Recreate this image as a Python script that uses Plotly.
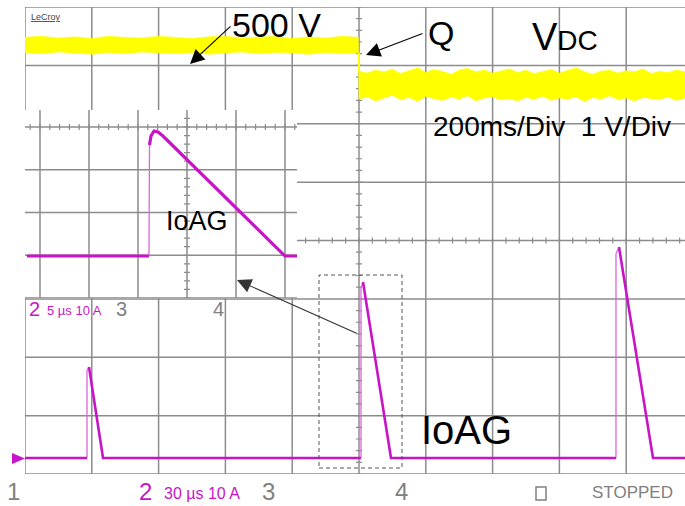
import plotly.graph_objects as go

# ---------------- data (in scope divisions) ----------------
vdc_t = [0.00, 0.25, 0.50, 0.75, 1.00, 1.25, 1.50, 1.75, 2.00, 2.25, 2.50, 2.75, 3.00, 3.25, 3.50,
         3.75, 4.00, 4.25, 4.50, 4.75, 4.99,
         5.00, 5.12, 5.25, 5.38, 5.50, 5.62, 5.75, 5.88, 6.00, 6.12, 6.25, 6.38, 6.50, 6.62, 6.75,
         6.88, 7.00, 7.12, 7.25, 7.38, 7.50, 7.62, 7.75, 7.88, 8.00, 8.12, 8.25, 8.38, 8.50, 8.62,
         8.75, 8.88, 9.00, 9.12, 9.25, 9.38, 9.50, 9.62, 9.75, 9.88]
vdc_hi = [7.48, 7.50, 7.47, 7.49, 7.46, 7.50, 7.48, 7.47, 7.50, 7.48, 7.46, 7.49, 7.50, 7.47, 7.48,
          7.50, 7.46, 7.49, 7.47, 7.50, 7.48,
          6.90, 6.87, 6.92, 6.89, 6.94, 6.86, 6.91, 6.96, 6.88, 6.93, 6.90, 6.85, 6.92, 6.95, 6.89,
          6.92, 6.87, 6.90, 6.94, 6.88, 6.92, 6.86, 6.89, 6.93, 6.87, 6.91, 6.96, 6.89, 6.85, 6.90,
          6.92, 6.87, 6.91, 6.89, 6.94, 6.86, 6.90, 6.88, 6.92, 6.89]
vdc_lo = [7.22, 7.20, 7.23, 7.21, 7.19, 7.22, 7.20, 7.23, 7.21, 7.20, 7.22, 7.19, 7.21, 7.23, 7.20,
          7.22, 7.21, 7.19, 7.22, 7.20, 7.21,
          6.42, 6.46, 6.39, 6.44, 6.49, 6.41, 6.45, 6.38, 6.47, 6.43, 6.40, 6.46, 6.42, 6.48, 6.39,
          6.44, 6.46, 6.41, 6.43, 6.39, 6.45, 6.42, 6.47, 6.40, 6.44, 6.42, 6.46, 6.38, 6.45, 6.42,
          6.48, 6.41, 6.44, 6.39, 6.45, 6.43, 6.41, 6.46, 6.40, 6.44]
step_index = 21

# main current pulses (30 us/div, 10 A/div)
baseline = 0.274
pulse_rise_t = [0.928, 5.030, 8.847]
pulse_peak_t = [0.958, 5.060, 8.892]
pulse_peak_v = [1.833, 3.289, 3.889]
pulse_end_t = [1.168, 5.479, 9.401]
t_end = 9.88

# zoomed pulse (5 us/div)
ins_base = 0.982
ins_start = -0.265
ins_rise_t = 2.224
ins_top_t = [2.235, 2.265, 2.327, 2.408, 2.510]
ins_top_v = [3.58, 3.79, 3.906, 3.883, 3.79]
ins_end_t = 5.0
ins_last_t = 5.245

# ---------------- geometry helpers (layout only) ----------------
L, T, W, H = 25, 7, 660, 467
def px(x):
    return (x - L) / W
def py(y):
    return (T + H - y) / H

GRID = '#8c8c8c'
YEL = '#ffff00'
MAG = '#c814c8'
GRAY = '#808080'
NARROW = 'Liberation Sans, Arial, sans-serif'
ARIAL = 'Liberation Sans, Arial, sans-serif'

fig = go.Figure()

# VDC band
fig.add_trace(go.Scatter(x=vdc_t, y=vdc_lo, mode='lines', line=dict(color=YEL, width=0.5),
                         showlegend=False, hoverinfo='skip'))
fig.add_trace(go.Scatter(x=vdc_t, y=vdc_hi, mode='lines', line=dict(color=YEL, width=0.5),
                         fill='tonexty', fillcolor=YEL, showlegend=False, hoverinfo='skip'))
fig.add_trace(go.Scatter(x=[vdc_t[step_index], vdc_t[step_index]],
                         y=[vdc_lo[step_index - 1], vdc_hi[step_index]],
                         mode='lines', line=dict(color=YEL, width=2), showlegend=False, hoverinfo='skip'))

# main current: thin rises
rx, ry = [], []
for r, p, v in zip(pulse_rise_t, pulse_peak_t, pulse_peak_v):
    rx += [r, r, p, None]
    ry += [baseline, v * 0.97, v, None]
fig.add_trace(go.Scatter(x=rx, y=ry, mode='lines', line=dict(color='#dd66dd', width=1.3),
                         showlegend=False, hoverinfo='skip'))
# main current: baseline + decays
cx, cy = [0.0], [baseline]
for r, p, v, e in zip(pulse_rise_t, pulse_peak_t, pulse_peak_v, pulse_end_t):
    cx += [r, None, p, e]
    cy += [baseline, None, v, baseline]
cx.append(t_end)
cy.append(baseline)
fig.add_trace(go.Scatter(x=cx, y=cy, mode='lines', line=dict(color=MAG, width=2.6),
                         showlegend=False, hoverinfo='skip'))

# inset pulse
fig.add_trace(go.Scatter(x=[ins_rise_t, ins_top_t[0]], y=[ins_base, ins_top_v[0]], mode='lines',
                         line=dict(color='#dd66dd', width=1.3), xaxis='x2', yaxis='y2',
                         showlegend=False, hoverinfo='skip'))
fig.add_trace(go.Scatter(x=[ins_start, ins_rise_t, None] + ins_top_t + [ins_end_t, ins_last_t],
                         y=[ins_base, ins_base, None] + ins_top_v + [ins_base, ins_base],
                         mode='lines', line=dict(color=MAG, width=3.2), xaxis='x2', yaxis='y2',
                         showlegend=False, hoverinfo='skip'))

# ---------------- grid shapes ----------------
shapes = []
def line(x0, y0, x1, y1, xref='x', yref='y', color=GRID, width=1.5, dash=None, layer='below'):
    d = dict(type='line', x0=x0, y0=y0, x1=x1, y1=y1, xref=xref, yref=yref, layer=layer,
             line=dict(color=color, width=width))
    if dash:
        d['line']['dash'] = dash
    shapes.append(d)

XMAX = W / 66.8
for k in range(0, 10):
    line(k, 0, k, 8)
for j in range(0, 9):
    line(0, j, XMAX, j)
# ticks on main center axes
p = ''
for i in range(0, 41):
    yy = i * 0.2
    p += f'M{5 - 0.045},{yy} L{5 + 0.045},{yy} '
for i in range(0, 50):
    xx = i * 0.2
    p += f'M{xx},{4 - 0.05} L{xx},{4 + 0.05} '
shapes.append(dict(type='path', path=p, xref='x', yref='y', layer='below',
                   line=dict(color=GRID, width=1.2)))

# inset white background
shapes.append(dict(type='rect', xref='paper', yref='paper', x0=px(26.5), x1=px(297), y0=py(322),
                   y1=py(108), fillcolor='white', line=dict(width=0), layer='below'))
X2MIN, X2MAX, Y2MAX = -0.306, 5.245, 4.398
for k in range(0, 6):
    line(k, 0, k, Y2MAX, 'x2', 'y2')
for j in range(0, 5):
    line(X2MIN, j, X2MAX, j, 'x2', 'y2')
p2 = ''
for i in range(-1, 27):
    xx = i * 0.2
    p2 += f'M{xx},{4 - 0.07} L{xx},{4 + 0.07} '
for i in range(0, 22):
    yy = i * 0.2
    p2 += f'M{3 - 0.061},{yy} L{3 + 0.061},{yy} '
shapes.append(dict(type='path', path=p2, xref='x2', yref='y2', layer='below',
                   line=dict(color=GRID, width=1.2)))

# dashed zoom box
shapes.append(dict(type='rect', xref='paper', yref='paper', x0=px(319), x1=px(402), y0=py(468),
                   y1=py(275), line=dict(color='#555555', width=1, dash='4px,3px'), layer='above'))
# small square indicator
shapes.append(dict(type='rect', xref='paper', yref='paper', x0=px(536), x1=px(546), y0=py(500),
                   y1=py(487), line=dict(color=GRAY, width=1.5), layer='above'))
# channel marker triangle
shapes.append(dict(type='path', xref='paper', yref='paper', layer='above',
                   path=f'M{px(12)},{py(453)} L{px(25)},{py(458.5)} L{px(12)},{py(464)} Z',
                   fillcolor=MAG, line=dict(color=MAG, width=0)))

# ---------------- annotations ----------------
ann = []
def text(s, x, y, size, color='black', family=ARIAL, xanchor='left'):
    ann.append(dict(text=s, x=px(x), y=py(y), xref='paper', yref='paper', showarrow=False,
                    xanchor=xanchor, yanchor='middle', font=dict(size=size, color=color, family=family)))
def arrow(tipx, tipy, tailx, taily, color='black'):
    ann.append(dict(text='', x=px(tipx), y=py(tipy), xref='paper', yref='paper', showarrow=True,
                    ax=tailx - tipx, ay=taily - tipy, arrowhead=2, arrowsize=2.6, arrowwidth=1.1,
                    arrowcolor=color))

text('<u>LeCroy</u>', 29, 17, 9, '#444444', NARROW)
text('500 V', 230, 25, 34)
text('Q', 426, 33, 34)
text("V<span style='font-size:28px'>DC</span>", 530, 37, 38)
text('200ms/Div  1 V/Div', 431, 126, 28)
text('IoAG', 164, 221, 27)
text('IoAG', 419, 430, 40)
arrow(190, 64, 232, 25)
arrow(366, 55, 424, 33)
arrow(237, 280, 358, 334, '#333333')

text('2', 34, 309, 20, MAG, NARROW, 'center')
text('5 µs 10 A', 45, 310, 13, MAG, NARROW)
text('3', 121, 309, 20, GRAY, NARROW, 'center')
text('4', 218, 309, 20, GRAY, NARROW, 'center')

text('1', 13, 491, 24, GRAY, NARROW, 'center')
text('2', 145, 491, 24, MAG, NARROW, 'center')
text('30 µs 10 A', 162, 493, 16, MAG, NARROW)
text('3', 268, 491, 24, GRAY, NARROW, 'center')
text('4', 401, 491, 24, GRAY, NARROW, 'center')
text('STOPPED', 632, 492, 17, GRAY, NARROW, 'center')

ax_common = dict(visible=False, showgrid=False, zeroline=False, fixedrange=True)
fig.update_layout(
    width=685, height=506, margin=dict(l=L, r=0, t=T, b=506 - T - H),
    paper_bgcolor='white', plot_bgcolor='white', showlegend=False,
    xaxis=dict(range=[0, XMAX], domain=[0, 1], **ax_common),
    yaxis=dict(range=[0, 8], domain=[0, 1], **ax_common),
    xaxis2=dict(range=[X2MIN, X2MAX], domain=[0, px(297)], anchor='y2', **ax_common),
    yaxis2=dict(range=[0, Y2MAX], domain=[py(298), py(110)], anchor='x2', **ax_common),
    shapes=shapes, annotations=ann,
)
fig.write_html('out.html')
